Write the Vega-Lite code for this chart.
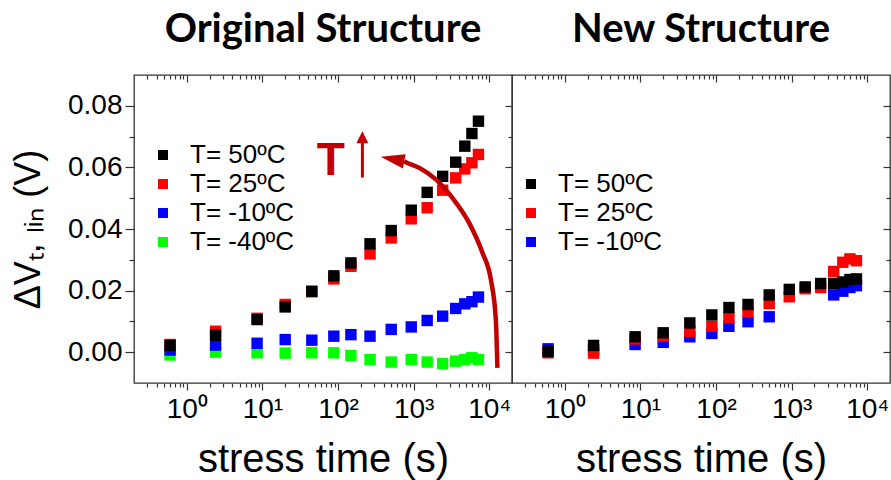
{
  "$schema": "https://vega.github.io/schema/vega-lite/v6.json",
  "background": "white",
  "padding": {"left": 9, "top": 9, "right": 0, "bottom": 0},
  "spacing": 0,
  "bounds": "flush",
  "datasets": {
    "orig": [
      {"t": 0.6, "dv": -0.0009, "series": "T= -40ºC"},
      {"t": 2.4, "dv": 0.0, "series": "T= -40ºC"},
      {"t": 8.5, "dv": -0.0002, "series": "T= -40ºC"},
      {"t": 20, "dv": -0.0003, "series": "T= -40ºC"},
      {"t": 45, "dv": -0.0002, "series": "T= -40ºC"},
      {"t": 88, "dv": -0.0002, "series": "T= -40ºC"},
      {"t": 148, "dv": -0.0011, "series": "T= -40ºC"},
      {"t": 265, "dv": -0.0024, "series": "T= -40ºC"},
      {"t": 505, "dv": -0.0032, "series": "T= -40ºC"},
      {"t": 930, "dv": -0.0024, "series": "T= -40ºC"},
      {"t": 1510, "dv": -0.0032, "series": "T= -40ºC"},
      {"t": 2420, "dv": -0.0037, "series": "T= -40ºC"},
      {"t": 3600, "dv": -0.0029, "series": "T= -40ºC"},
      {"t": 4750, "dv": -0.0024, "series": "T= -40ºC"},
      {"t": 5900, "dv": -0.0018, "series": "T= -40ºC"},
      {"t": 7200, "dv": -0.0024, "series": "T= -40ºC"},
      {"t": 0.6, "dv": 0.0007, "series": "T= -10ºC"},
      {"t": 2.4, "dv": 0.0023, "series": "T= -10ºC"},
      {"t": 8.5, "dv": 0.0029, "series": "T= -10ºC"},
      {"t": 20, "dv": 0.0041, "series": "T= -10ºC"},
      {"t": 45, "dv": 0.0039, "series": "T= -10ºC"},
      {"t": 88, "dv": 0.0052, "series": "T= -10ºC"},
      {"t": 148, "dv": 0.0057, "series": "T= -10ºC"},
      {"t": 265, "dv": 0.0052, "series": "T= -10ºC"},
      {"t": 505, "dv": 0.0074, "series": "T= -10ºC"},
      {"t": 930, "dv": 0.0082, "series": "T= -10ºC"},
      {"t": 1510, "dv": 0.0103, "series": "T= -10ºC"},
      {"t": 2420, "dv": 0.0117, "series": "T= -10ºC"},
      {"t": 3600, "dv": 0.0142, "series": "T= -10ºC"},
      {"t": 4750, "dv": 0.0157, "series": "T= -10ºC"},
      {"t": 5900, "dv": 0.0164, "series": "T= -10ºC"},
      {"t": 7200, "dv": 0.0179, "series": "T= -10ºC"},
      {"t": 0.6, "dv": 0.0025, "series": "T= 25ºC"},
      {"t": 2.4, "dv": 0.0068, "series": "T= 25ºC"},
      {"t": 8.5, "dv": 0.011, "series": "T= 25ºC"},
      {"t": 20, "dv": 0.0155, "series": "T= 25ºC"},
      {"t": 45, "dv": 0.0196, "series": "T= 25ºC"},
      {"t": 88, "dv": 0.0238, "series": "T= 25ºC"},
      {"t": 148, "dv": 0.0279, "series": "T= 25ºC"},
      {"t": 265, "dv": 0.0319, "series": "T= 25ºC"},
      {"t": 505, "dv": 0.0371, "series": "T= 25ºC"},
      {"t": 930, "dv": 0.0433, "series": "T= 25ºC"},
      {"t": 1510, "dv": 0.0469, "series": "T= 25ºC"},
      {"t": 2420, "dv": 0.0526, "series": "T= 25ºC"},
      {"t": 3600, "dv": 0.0566, "series": "T= 25ºC"},
      {"t": 4750, "dv": 0.0595, "series": "T= 25ºC"},
      {"t": 5900, "dv": 0.0615, "series": "T= 25ºC"},
      {"t": 7200, "dv": 0.0642, "series": "T= 25ºC"},
      {"t": 0.6, "dv": 0.0022, "series": "T= 50ºC"},
      {"t": 2.4, "dv": 0.0055, "series": "T= 50ºC"},
      {"t": 8.5, "dv": 0.0106, "series": "T= 50ºC"},
      {"t": 20, "dv": 0.0147, "series": "T= 50ºC"},
      {"t": 45, "dv": 0.0198, "series": "T= 50ºC"},
      {"t": 88, "dv": 0.0248, "series": "T= 50ºC"},
      {"t": 148, "dv": 0.029, "series": "T= 50ºC"},
      {"t": 265, "dv": 0.0352, "series": "T= 50ºC"},
      {"t": 505, "dv": 0.0395, "series": "T= 50ºC"},
      {"t": 930, "dv": 0.0461, "series": "T= 50ºC"},
      {"t": 1510, "dv": 0.0519, "series": "T= 50ºC"},
      {"t": 2420, "dv": 0.0571, "series": "T= 50ºC"},
      {"t": 3600, "dv": 0.0617, "series": "T= 50ºC"},
      {"t": 4750, "dv": 0.0669, "series": "T= 50ºC"},
      {"t": 5900, "dv": 0.071, "series": "T= 50ºC"},
      {"t": 7200, "dv": 0.075, "series": "T= 50ºC"}
    ],
    "newd": [
      {"t": 0.6, "dv": 0.0011, "series": "T= -10ºC"},
      {"t": 2.4, "dv": 0.0008, "series": "T= -10ºC"},
      {"t": 8.5, "dv": 0.0025, "series": "T= -10ºC"},
      {"t": 20, "dv": 0.0032, "series": "T= -10ºC"},
      {"t": 45, "dv": 0.005, "series": "T= -10ºC"},
      {"t": 88, "dv": 0.0061, "series": "T= -10ºC"},
      {"t": 148, "dv": 0.0084, "series": "T= -10ºC"},
      {"t": 265, "dv": 0.0099, "series": "T= -10ºC"},
      {"t": 505, "dv": 0.0115, "series": "T= -10ºC"},
      {"t": 3600, "dv": 0.0186, "series": "T= -10ºC"},
      {"t": 4750, "dv": 0.0198, "series": "T= -10ºC"},
      {"t": 5900, "dv": 0.021, "series": "T= -10ºC"},
      {"t": 7200, "dv": 0.0216, "series": "T= -10ºC"},
      {"t": 0.6, "dv": -0.0002, "series": "T= 25ºC"},
      {"t": 2.4, "dv": -0.0003, "series": "T= 25ºC"},
      {"t": 8.5, "dv": 0.0043, "series": "T= 25ºC"},
      {"t": 20, "dv": 0.0052, "series": "T= 25ºC"},
      {"t": 45, "dv": 0.0068, "series": "T= 25ºC"},
      {"t": 88, "dv": 0.0084, "series": "T= 25ºC"},
      {"t": 148, "dv": 0.0112, "series": "T= 25ºC"},
      {"t": 265, "dv": 0.0131, "series": "T= 25ºC"},
      {"t": 505, "dv": 0.0158, "series": "T= 25ºC"},
      {"t": 930, "dv": 0.018, "series": "T= 25ºC"},
      {"t": 1510, "dv": 0.0206, "series": "T= 25ºC"},
      {"t": 2420, "dv": 0.021, "series": "T= 25ºC"},
      {"t": 3600, "dv": 0.0262, "series": "T= 25ºC"},
      {"t": 4750, "dv": 0.0292, "series": "T= 25ºC"},
      {"t": 5900, "dv": 0.0303, "series": "T= 25ºC"},
      {"t": 7200, "dv": 0.0297, "series": "T= 25ºC"},
      {"t": 0.6, "dv": 0.0002, "series": "T= 50ºC"},
      {"t": 2.4, "dv": 0.0022, "series": "T= 50ºC"},
      {"t": 8.5, "dv": 0.005, "series": "T= 50ºC"},
      {"t": 20, "dv": 0.0063, "series": "T= 50ºC"},
      {"t": 45, "dv": 0.0095, "series": "T= 50ºC"},
      {"t": 88, "dv": 0.0121, "series": "T= 50ºC"},
      {"t": 148, "dv": 0.0145, "series": "T= 50ºC"},
      {"t": 265, "dv": 0.0155, "series": "T= 50ºC"},
      {"t": 505, "dv": 0.0186, "series": "T= 50ºC"},
      {"t": 930, "dv": 0.0204, "series": "T= 50ºC"},
      {"t": 1510, "dv": 0.0212, "series": "T= 50ºC"},
      {"t": 2420, "dv": 0.0223, "series": "T= 50ºC"},
      {"t": 3600, "dv": 0.0223, "series": "T= 50ºC"},
      {"t": 4750, "dv": 0.0228, "series": "T= 50ºC"},
      {"t": 5900, "dv": 0.0236, "series": "T= 50ºC"},
      {"t": 7200, "dv": 0.0238, "series": "T= 50ºC"}
    ],
    "arc": [
      {"t": 748, "dv": 0.062},
      {"t": 789, "dv": 0.0617},
      {"t": 1183, "dv": 0.0599},
      {"t": 1967, "dv": 0.0561},
      {"t": 3260, "dv": 0.0501},
      {"t": 5420, "dv": 0.042},
      {"t": 8130, "dv": 0.0323},
      {"t": 10500, "dv": 0.0236},
      {"t": 12220, "dv": 0.0106},
      {"t": 12830, "dv": -0.0051}
    ],
    "archead": [{"t": 525, "dv": 0.0627}],
    "tlabel": [{"t": 80, "dv": 0.0576, "label": "T"}],
    "upshaft": [{"t": 210, "y1": 0.0567, "y2": 0.0682}],
    "uphead": [{"t": 210, "dv": 0.0698}]
  },
  "hconcat": [
    {
      "width": 378,
      "height": 308,
      "title": {"text": "Original Structure"},
      "resolve": {"axis": {"x": "independent", "y": "independent"}},
      "layer": [
        {
          "data": {"name": "orig"},
          "mark": {"type": "square", "size": 130, "opacity": 1, "filled": true},
          "encoding": {
            "x": {"field": "t", "type": "quantitative",
              "scale": {"type": "log", "domain": [0.2, 20000], "nice": false},
              "axis": {"orient": "bottom", "values": [1, 10, 100, 1000, 10000], "tickSize": 7, "labelPadding": 5, "labelFontSize": 28,
                "labelExpr": "datum.value == 1 ? '10⁰' : datum.value == 10 ? '10¹' : datum.value == 100 ? '10²' : datum.value == 1000 ? '10³' : '10⁴'",
                "title": "stress time (s)", "titleFontSize": 40, "titleFontWeight": "normal", "titlePadding": 16}},
            "y": {"field": "dv", "type": "quantitative",
              "scale": {"domain": [-0.01, 0.09], "nice": false, "zero": false},
              "axis": {"orient": "left", "values": [0, 0.02, 0.04, 0.06, 0.08], "format": ".2f", "tickSize": 9, "labelPadding": 3, "labelFontSize": 28,
                "title": "ΔVₜ, ₗᵢₙ (V)", "titleFontSize": 36, "titleFontWeight": "normal", "titlePadding": 20}},
            "color": {"field": "series", "type": "nominal",
              "scale": {"domain": ["T= 50ºC", "T= 25ºC", "T= -10ºC", "T= -40ºC"], "range": ["#000000", "#ff0000", "#0000ff", "#00ff00"]},
              "legend": {"orient": "none", "legendX": 16, "legendY": 67, "title": null, "symbolType": "square", "symbolSize": 100, "symbolStrokeWidth": 0, "symbolOpacity": 1, "labelFontSize": 26, "labelOffset": 14, "rowPadding": 3, "labelColor": "#000"}}
          }
        },
        {
          "data": {"name": "orig"},
          "mark": {"type": "point", "opacity": 0},
          "encoding": {
            "x": {"field": "t", "type": "quantitative", "scale": {"type": "log", "domain": [0.2, 20000], "nice": false},
              "axis": {"orient": "bottom", "values": [0.3, 0.4, 0.5, 0.6, 0.7, 0.8, 0.9, 2, 3, 4, 5, 6, 7, 8, 9, 20, 30, 40, 50, 60, 70, 80, 90, 200, 300, 400, 500, 600, 700, 800, 900, 2000, 3000, 4000, 5000, 6000, 7000, 8000, 9000], "tickSize": 4, "labels": false, "title": null}},
            "y": {"field": "dv", "type": "quantitative", "scale": {"domain": [-0.01, 0.09], "nice": false, "zero": false},
              "axis": {"orient": "left", "values": [0.01, 0.03, 0.05, 0.07], "tickSize": 5, "labels": false, "title": null}}
          }
        },
        {
          "data": {"name": "orig"},
          "mark": {"type": "point", "opacity": 0},
          "encoding": {
            "x": {"field": "t", "type": "quantitative", "scale": {"type": "log", "domain": [0.2, 20000], "nice": false},
              "axis": {"orient": "top", "values": [1, 10, 100, 1000, 10000], "tickSize": -7, "labels": false, "title": null}},
            "y": {"field": "dv", "type": "quantitative", "scale": {"domain": [-0.01, 0.09], "nice": false, "zero": false},
              "axis": {"orient": "right", "values": [0, 0.02, 0.04, 0.06, 0.08], "tickSize": -7, "labels": false, "title": null}}
          }
        },
        {
          "data": {"name": "orig"},
          "mark": {"type": "point", "opacity": 0},
          "encoding": {
            "x": {"field": "t", "type": "quantitative", "scale": {"type": "log", "domain": [0.2, 20000], "nice": false},
              "axis": {"orient": "top", "values": [0.3, 0.4, 0.5, 0.6, 0.7, 0.8, 0.9, 2, 3, 4, 5, 6, 7, 8, 9, 20, 30, 40, 50, 60, 70, 80, 90, 200, 300, 400, 500, 600, 700, 800, 900, 2000, 3000, 4000, 5000, 6000, 7000, 8000, 9000], "tickSize": -4, "labels": false, "title": null}},
            "y": {"field": "dv", "type": "quantitative", "scale": {"domain": [-0.01, 0.09], "nice": false, "zero": false},
              "axis": {"orient": "right", "values": [0.01, 0.03, 0.05, 0.07], "tickSize": -4, "labels": false, "title": null}}
          }
        },
        {
          "data": {"name": "arc"},
          "mark": {"type": "line", "color": "#c00000", "strokeWidth": 4.5, "interpolate": "monotone"},
          "encoding": {
            "x": {"field": "t", "type": "quantitative", "scale": {"type": "log", "domain": [0.2, 20000], "nice": false}, "axis": null},
            "y": {"field": "dv", "type": "quantitative", "scale": {"domain": [-0.01, 0.09], "nice": false, "zero": false}, "axis": null}
          }
        },
        {
          "data": {"name": "archead"},
          "mark": {"type": "point", "shape": "M-1,0L1,-0.6L1,0.6Z", "size": 576, "angle": 11, "filled": true, "color": "#c00000", "opacity": 1, "strokeWidth": 0},
          "encoding": {
            "x": {"field": "t", "type": "quantitative", "scale": {"type": "log", "domain": [0.2, 20000], "nice": false}, "axis": null},
            "y": {"field": "dv", "type": "quantitative", "scale": {"domain": [-0.01, 0.09], "nice": false, "zero": false}, "axis": null}
          }
        },
        {
          "data": {"name": "tlabel"},
          "mark": {"type": "text", "fontSize": 46, "fontWeight": "bold", "color": "#c00000", "align": "center", "baseline": "alphabetic", "font": "Liberation Sans"},
          "encoding": {
            "x": {"field": "t", "type": "quantitative", "scale": {"type": "log", "domain": [0.2, 20000], "nice": false}, "axis": null},
            "y": {"field": "dv", "type": "quantitative", "scale": {"domain": [-0.01, 0.09], "nice": false, "zero": false}, "axis": null},
            "text": {"field": "label"}
          }
        },
        {
          "data": {"name": "upshaft"},
          "mark": {"type": "rule", "color": "#c00000", "strokeWidth": 3},
          "encoding": {
            "x": {"field": "t", "type": "quantitative", "scale": {"type": "log", "domain": [0.2, 20000], "nice": false}, "axis": null},
            "y": {"field": "y1", "type": "quantitative", "scale": {"domain": [-0.01, 0.09], "nice": false, "zero": false}, "axis": null},
            "y2": {"field": "y2"}
          }
        },
        {
          "data": {"name": "uphead"},
          "mark": {"type": "point", "shape": "M0,-1L1,1L-1,1Z", "size": 144, "filled": true, "color": "#c00000", "opacity": 1, "strokeWidth": 0},
          "encoding": {
            "x": {"field": "t", "type": "quantitative", "scale": {"type": "log", "domain": [0.2, 20000], "nice": false}, "axis": null},
            "y": {"field": "dv", "type": "quantitative", "scale": {"domain": [-0.01, 0.09], "nice": false, "zero": false}, "axis": null}
          }
        }
      ]
    },
    {
      "width": 378,
      "height": 308,
      "title": {"text": "New Structure"},
      "resolve": {"axis": {"x": "independent", "y": "independent"}},
      "layer": [
        {
          "data": {"name": "newd"},
          "mark": {"type": "square", "size": 130, "opacity": 1, "filled": true},
          "encoding": {
            "x": {"field": "t", "type": "quantitative",
              "scale": {"type": "log", "domain": [0.2, 20000], "nice": false},
              "axis": {"orient": "bottom", "values": [1, 10, 100, 1000, 10000], "tickSize": 7, "labelPadding": 5, "labelFontSize": 28,
                "labelExpr": "datum.value == 1 ? '10⁰' : datum.value == 10 ? '10¹' : datum.value == 100 ? '10²' : datum.value == 1000 ? '10³' : '10⁴'",
                "title": "stress time (s)", "titleFontSize": 40, "titleFontWeight": "normal", "titlePadding": 16}},
            "y": {"field": "dv", "type": "quantitative",
              "scale": {"domain": [-0.01, 0.09], "nice": false, "zero": false}, "axis": null},
            "color": {"field": "series", "type": "nominal",
              "scale": {"domain": ["T= 50ºC", "T= 25ºC", "T= -10ºC"], "range": ["#000000", "#ff0000", "#0000ff"]},
              "legend": {"orient": "none", "legendX": 6, "legendY": 96, "title": null, "symbolType": "square", "symbolSize": 100, "symbolStrokeWidth": 0, "symbolOpacity": 1, "labelFontSize": 26, "labelOffset": 14, "rowPadding": 3, "labelColor": "#000"}}
          }
        },
        {
          "data": {"name": "newd"},
          "mark": {"type": "point", "opacity": 0},
          "encoding": {
            "x": {"field": "t", "type": "quantitative", "scale": {"type": "log", "domain": [0.2, 20000], "nice": false},
              "axis": {"orient": "bottom", "values": [0.3, 0.4, 0.5, 0.6, 0.7, 0.8, 0.9, 2, 3, 4, 5, 6, 7, 8, 9, 20, 30, 40, 50, 60, 70, 80, 90, 200, 300, 400, 500, 600, 700, 800, 900, 2000, 3000, 4000, 5000, 6000, 7000, 8000, 9000], "tickSize": 4, "labels": false, "title": null}},
            "y": {"field": "dv", "type": "quantitative", "scale": {"domain": [-0.01, 0.09], "nice": false, "zero": false}, "axis": null}
          }
        },
        {
          "data": {"name": "newd"},
          "mark": {"type": "point", "opacity": 0},
          "encoding": {
            "x": {"field": "t", "type": "quantitative", "scale": {"type": "log", "domain": [0.2, 20000], "nice": false},
              "axis": {"orient": "top", "values": [1, 10, 100, 1000, 10000], "tickSize": -7, "labels": false, "title": null}},
            "y": {"field": "dv", "type": "quantitative", "scale": {"domain": [-0.01, 0.09], "nice": false, "zero": false},
              "axis": {"orient": "right", "values": [0, 0.02, 0.04, 0.06, 0.08], "tickSize": -7, "labels": false, "title": null}}
          }
        },
        {
          "data": {"name": "newd"},
          "mark": {"type": "point", "opacity": 0},
          "encoding": {
            "x": {"field": "t", "type": "quantitative", "scale": {"type": "log", "domain": [0.2, 20000], "nice": false},
              "axis": {"orient": "top", "values": [0.3, 0.4, 0.5, 0.6, 0.7, 0.8, 0.9, 2, 3, 4, 5, 6, 7, 8, 9, 20, 30, 40, 50, 60, 70, 80, 90, 200, 300, 400, 500, 600, 700, 800, 900, 2000, 3000, 4000, 5000, 6000, 7000, 8000, 9000], "tickSize": -4, "labels": false, "title": null}},
            "y": {"field": "dv", "type": "quantitative", "scale": {"domain": [-0.01, 0.09], "nice": false, "zero": false},
              "axis": {"orient": "right", "values": [0.01, 0.03, 0.05, 0.07], "tickSize": -4, "labels": false, "title": null}}
          }
        }
      ]
    }
  ],
  "resolve": {"scale": {"color": "independent"}, "legend": {"color": "independent"}},
  "config": {
    "font": "Liberation Sans",
    "view": {"stroke": "#333333", "strokeWidth": 1.3},
    "axis": {"domain": false, "grid": false, "tickColor": "#333333", "tickWidth": 1.2, "labelColor": "#000000", "titleColor": "#000000", "labelFont": "Liberation Sans", "titleFont": "Liberation Sans", "labelOverlap": false, "labelBound": false, "labelFlush": false},
    "legend": {"labelFont": "Liberation Sans"},
    "title": {"font": "Lato", "fontSize": 40, "fontWeight": "bold", "anchor": "middle", "offset": 24, "color": "#000000"}
  }
}
